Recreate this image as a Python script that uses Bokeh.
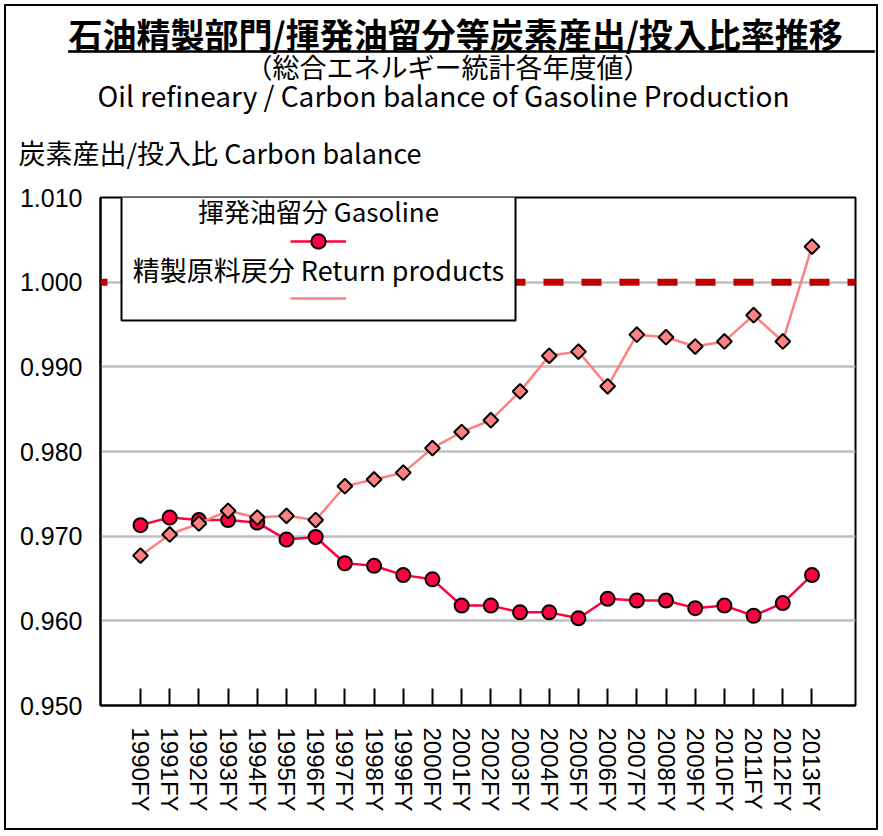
import math
from bokeh.plotting import figure
from bokeh.models import (Range1d, FixedTicker, Span, Label, BoxAnnotation,
                          Legend, LegendItem, Title, InlineStyleSheet)
from bokeh.embed import file_html
from bokeh.resources import INLINE

# ---- data ----
years = ["1990FY", "1991FY", "1992FY", "1993FY", "1994FY", "1995FY", "1996FY",
         "1997FY", "1998FY", "1999FY", "2000FY", "2001FY", "2002FY", "2003FY",
         "2004FY", "2005FY", "2006FY", "2007FY", "2008FY", "2009FY", "2010FY",
         "2011FY", "2012FY", "2013FY"]
gasoline = [0.9713, 0.9722, 0.9719, 0.9719, 0.9716, 0.9696, 0.9699,
            0.9668, 0.9665, 0.9654, 0.9649, 0.9618, 0.9618, 0.9610,
            0.9610, 0.9603, 0.9626, 0.9624, 0.9624, 0.9615, 0.9618,
            0.9606, 0.9621, 0.9654]
returns = [0.9677, 0.9702, 0.9715, 0.9730, 0.9722, 0.9724, 0.9719,
           0.9759, 0.9767, 0.9775, 0.9804, 0.9823, 0.9837, 0.9871,
           0.9913, 0.9918, 0.9877, 0.9938, 0.9935, 0.9924, 0.9930,
           0.9961, 0.9930, 1.0042]
y_ticks = [0.950, 0.960, 0.970, 0.980, 0.990, 1.000, 1.010]
y_tick_labels = ["0.950", "0.960", "0.970", "0.980", "0.990", "1.000", "1.010"]
reference_level = 1.000

title_main = "石油精製部門/揮発油留分等炭素産出/投入比率推移"
title_sub = "（総合エネルギー統計各年度値）"
title_en = "Oil refineary / Carbon balance of Gasoline Production"
y_title = "炭素産出/投入比 Carbon balance"
name_gas = "揮発油留分 Gasoline"
name_ret = "精製原料戻分 Return products"

JP = "Noto Sans CJK JP"
NUM = "Liberation Sans"

W = 882
H = 834
xs = list(range(len(years)))

p = figure(width=W, height=H, output_backend="svg", toolbar_location=None,
           x_range=Range1d(-1.37, 24.49), y_range=Range1d(0.950, 1.010),
           min_border_left=100, min_border_right=W - 855, min_border_top=197,
           min_border_bottom=H - 705)
p.background_fill_color = "white"
p.border_fill_alpha = 0.0
p.outline_line_color = "black"
p.outline_line_width = 2
p.stylesheets = [InlineStyleSheet(css=":host { outline: 2.5px solid black; outline-offset: -6px; }")]

# ---- titles (stacked above the frame, nearest first) ----
def ttl(text, size, offset, standoff, style="normal"):
    return Title(text=text, align="left", offset=offset, vertical_align="middle",
                 standoff=standoff, text_font=JP, text_font_size=size,
                 text_font_style=style, text_color="black")

p.add_layout(ttl(y_title, "27px", -82, 49), "above")
p.add_layout(ttl(title_en, "28px", -3, -16), "above")
p.add_layout(ttl(title_sub, "27px", 145, -11), "above")
p.add_layout(Title(text=" ", align="left", offset=-32, vertical_align="middle",
                   standoff=-11, text_font=JP, text_font_size="1px",
                   background_fill_color="black", border_line_color="black",
                   border_line_width=1, padding={"x": 403, "y": 0}), "above")
p.add_layout(ttl(title_main, "34px", -32, -15, style="bold"), "above")

# ---- axes ----
p.xaxis.ticker = FixedTicker(ticks=xs)
p.xaxis.major_label_overrides = {i: t for i, t in enumerate(years)}
p.xaxis.major_label_orientation = "vertical"
p.xaxis.major_label_text_font = NUM
p.xaxis.major_label_text_font_size = "24px"
p.xaxis.major_label_text_color = "black"
p.xaxis.major_label_standoff = 22
p.xaxis.major_tick_in = 17
p.xaxis.major_tick_out = 0
p.xaxis.major_tick_line_color = "black"
p.xaxis.major_tick_line_width = 2
p.xaxis.minor_tick_line_color = None
p.xaxis.axis_line_color = "black"
p.xaxis.axis_line_width = 2

p.yaxis.ticker = FixedTicker(ticks=y_ticks)
p.yaxis.major_label_overrides = {t: s for t, s in zip(y_ticks, y_tick_labels)}
p.yaxis.major_label_text_font = NUM
p.yaxis.major_label_text_font_size = "25px"
p.yaxis.major_label_text_color = "black"
p.yaxis.major_label_standoff = 18
p.yaxis.major_tick_in = 0
p.yaxis.major_tick_out = 0
p.yaxis.minor_tick_line_color = None
p.yaxis.axis_line_color = "black"
p.yaxis.axis_line_width = 2

p.xgrid.visible = False
p.ygrid.grid_line_color = "#C0C0C0"
p.ygrid.grid_line_width = 2.5

# ---- series ----
r1l = p.line(xs, gasoline, line_color="#FF0040", line_width=2.5)
r1s = p.scatter(xs, gasoline, marker="circle", size=14, fill_color="#FF0040",
                line_color="black", line_width=2)
r2l = p.line(xs, returns, line_color="#FF8080", line_width=2.5)
r2s = p.scatter(xs, returns, marker="square", angle=math.pi / 4, size=10.5,
                fill_color="#FF8080", line_color="black", line_width=2)
# legend-only sample glyph (no data)
r2k = p.scatter(x=[], y=[], marker="diamond", fill_color="#FF8080",
                line_color="black", line_width=2)

p.add_layout(Span(location=reference_level, dimension="width", line_color="#C00000",
                  line_width=7, line_dash="20 18", line_dash_offset=13))

# ---- legend ----
p.add_layout(BoxAnnotation(left=21, right=415, top=509, bottom=385,
                           left_units="screen", right_units="screen",
                           top_units="screen", bottom_units="screen",
                           fill_color="white", fill_alpha=1.0,
                           line_color="black", line_alpha=1.0, line_width=2))


def small_legend(renderers, gh, loc):
    return Legend(items=[LegendItem(label=" ", renderers=renderers)],
                  location=loc, glyph_width=56, glyph_height=gh, padding=0,
                  spacing=0, margin=0, label_standoff=0, label_width=0,
                  label_height=0, label_text_font_size="1px",
                  border_line_color=None, background_fill_alpha=0.0)


p.add_layout(small_legend([r1l, r1s], 36, (190, 446)), "center")
p.add_layout(small_legend([r2l, r2k], 36, (190, 389)), "center")


def lab(x, y, text, size):
    return Label(x=x, y=y, x_units="screen", y_units="screen", text=text,
                 text_font=JP, text_font_size=size, text_align="center",
                 text_baseline="middle", text_color="black")


p.add_layout(lab(218, 495, name_gas, "26px"))
p.add_layout(lab(218, 436, name_ret, "27px"))

open("out.html", "w").write(file_html(p, INLINE))
